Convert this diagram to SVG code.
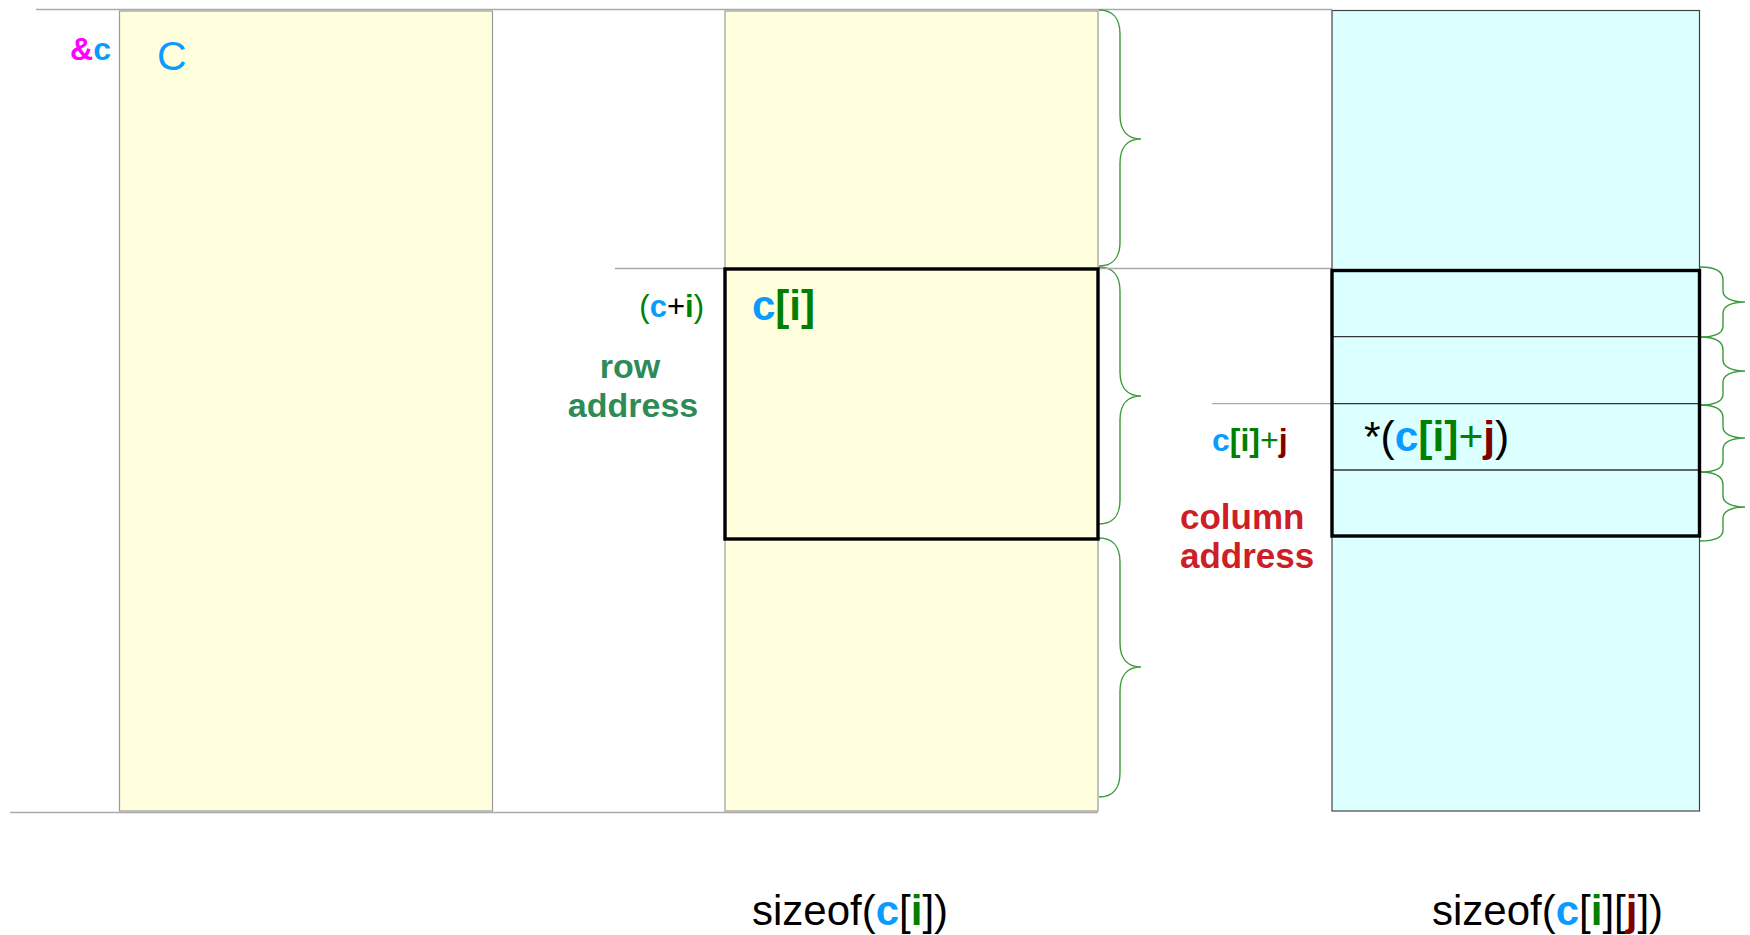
<svg xmlns="http://www.w3.org/2000/svg" width="1750" height="935" viewBox="0 0 1750 935">
<style>
text{font-family:"Liberation Sans",Arial,sans-serif}
.b{font-weight:bold}
.blue{fill:#0a9bff}
.grn{fill:#008000}
.dred{fill:#800000}
.blk{fill:#000}
.yel{fill:#ffffde;stroke:#9a9a9a;stroke-width:1.2}
.cyan{fill:#dcffff;stroke:#444;stroke-width:1.2}
.thick{fill:none;stroke:#000;stroke-width:3.4}
.guide{stroke:#aaa;stroke-width:1.3;fill:none}
.div{stroke:#333;stroke-width:1.3;fill:none}
.brace{stroke:#3a9a3a;stroke-width:1.4;fill:none}
</style>
<rect width="1750" height="935" fill="#fff"/>
<g id="connectors">
<line class="guide" x1="36" y1="9.5" x2="1332" y2="9.5"/>
<line class="guide" x1="10" y1="812.5" x2="1098" y2="812.5"/>
<path class="brace" d="M1099,10 C1112,10 1120,18 1120,34 L1120,115 C1120,131 1128,139 1141,139 C1128,139 1120,147 1120,163 L1120,242 C1120,258 1112,266 1099,266"/>
<path class="brace" d="M1099,267 C1112,267 1120,275 1120,291 L1120,372 C1120,388 1128,396 1141,396 C1128,396 1120,404 1120,420 L1120,500 C1120,516 1112,524 1099,524"/>
<path class="brace" d="M1099,538 C1112,538 1120,546 1120,562 L1120,643 C1120,659 1128,667 1141,667 C1128,667 1120,675 1120,691 L1120,773 C1120,789 1112,797 1099,797"/>
<path class="brace" d="M1700,267 C1715,267 1723,271 1723,280 L1723,291 C1723,298 1732,302 1745,302 C1732,302 1723,306 1723,313 L1723,326 C1723,333 1715,337 1700,337"/>
<path class="brace" d="M1700,337 C1715,337 1723,341 1723,350 L1723,360 C1723,367 1732,371 1745,371 C1732,371 1723,375 1723,382 L1723,394 C1723,401 1715,405 1700,405"/>
<path class="brace" d="M1700,405 C1715,405 1723,409 1723,418 L1723,427 C1723,434 1732,438 1745,438 C1732,438 1723,442 1723,449 L1723,461 C1723,468 1715,472 1700,472"/>
<path class="brace" d="M1700,472 C1715,472 1723,476 1723,485 L1723,496 C1723,503 1732,507 1745,507 C1732,507 1723,511 1723,518 L1723,530 C1723,537 1715,541 1700,541"/>
</g>
<g id="array-c">
<rect class="yel" x="119.5" y="11" width="373" height="800"/>
<text x="111" y="60" font-size="32" class="b" text-anchor="end"><tspan fill="#ff00ff">&amp;</tspan><tspan class="blue">c</tspan></text>
<text x="157" y="70" font-size="41" class="blue">C</text>
</g>
<g id="rows">
<rect class="yel" x="725" y="11" width="373" height="800"/>
<line class="guide" x1="615" y1="268.5" x2="1332" y2="268.5"/>
<rect class="thick" x="725" y="269" width="373" height="270"/>
<text x="704" y="317" font-size="31" text-anchor="end"><tspan class="grn">(</tspan><tspan class="blue b">c</tspan><tspan class="blk">+</tspan><tspan class="grn b">i</tspan><tspan class="grn">)</tspan></text>
<text x="630" y="378" font-size="34" class="b" fill="#2e8b57" text-anchor="middle">row</text>
<text x="633" y="417" font-size="34" class="b" fill="#2e8b57" text-anchor="middle">address</text>
<text x="752" y="320" font-size="42" class="b"><tspan class="blue">c</tspan><tspan class="grn">[i]</tspan></text>
</g>
<g id="columns">
<rect class="cyan" x="1332" y="10.5" width="367.5" height="800.5"/>
<line class="guide" x1="1212" y1="403.7" x2="1332" y2="403.7"/>
<line class="div" x1="1332" y1="336.7" x2="1699.5" y2="336.7"/>
<line class="div" x1="1332" y1="403.7" x2="1699.5" y2="403.7"/>
<line class="div" x1="1332" y1="470" x2="1699.5" y2="470"/>
<rect class="thick" x="1332" y="270.5" width="367.5" height="265.5"/>
<text x="1212" y="451" font-size="32"><tspan class="blue b">c</tspan><tspan class="grn b">[i]</tspan><tspan class="grn">+</tspan><tspan class="dred b">j</tspan></text>
<text x="1364" y="451" font-size="42.5"><tspan class="blk">*(</tspan><tspan class="blue b">c</tspan><tspan class="grn b">[i]</tspan><tspan class="grn">+</tspan><tspan class="dred b">j</tspan><tspan class="blk">)</tspan></text>
<text x="1180" y="529" font-size="35" class="b" fill="#cc1f27">column</text>
<text x="1180" y="568" font-size="35" class="b" fill="#cc1f27">address</text>
</g>
<g id="labels">
<text x="752" y="925" font-size="42"><tspan class="blk">sizeof(</tspan><tspan class="blue b">c</tspan><tspan class="blk">[</tspan><tspan class="grn b">i</tspan><tspan class="blk">])</tspan></text>
<text x="1432" y="925" font-size="42"><tspan class="blk">sizeof(</tspan><tspan class="blue b">c</tspan><tspan class="blk">[</tspan><tspan class="grn b">i</tspan><tspan class="blk">][</tspan><tspan class="dred b">j</tspan><tspan class="blk">])</tspan></text>
</g>
</svg>
